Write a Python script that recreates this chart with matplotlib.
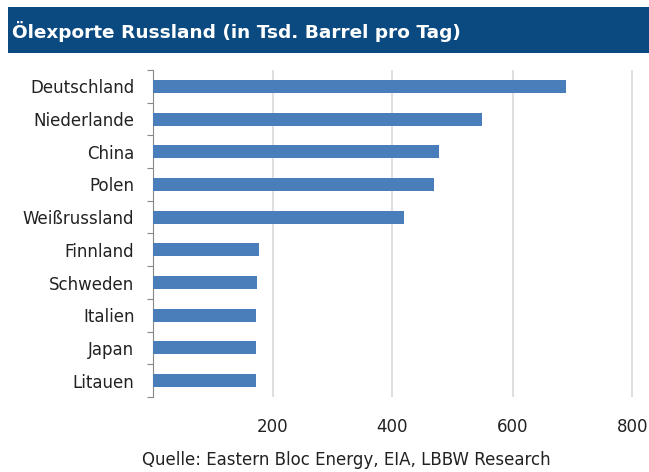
import matplotlib
matplotlib.use("Agg")
import matplotlib.pyplot as plt
from matplotlib.patches import Rectangle

title = "Ölexporte Russland (in Tsd. Barrel pro Tag)"
source = "Quelle: Eastern Bloc Energy, EIA, LBBW Research"
countries = ["Deutschland", "Niederlande", "China", "Polen", "Weißrussland",
             "Finnland", "Schweden", "Italien", "Japan", "Litauen"]
values = [689, 549, 478, 469, 419, 178, 174, 172, 172, 172]
xticks = [200, 400, 600, 800]

W, H = 649, 472
fig = plt.figure(figsize=(W / 100, H / 100), dpi=100)
fig.patch.set_facecolor("white")

# title bar
fig.patches.append(Rectangle((8 / W, 1 - 53 / H), 1 - 8 / W, 46 / H,
                             transform=fig.transFigure, facecolor="#0b4a80",
                             edgecolor="none"))
fig.text(12 / W, 1 - 31 / H, title, color="white", fontsize=13.3,
         fontweight="bold", va="center", ha="left", family="DejaVu Sans")

ax = fig.add_axes([152.5 / W, 1 - 397 / H, 481.2 / W, 327 / H])
y = list(range(len(countries)))
ax.barh(y, values, height=0.4, color="#4a7ebb", zorder=3)
ax.set_ylim(len(countries) - 0.5, -0.5)
ax.set_xlim(0, 802)
ax.set_yticks(y)
ax.set_yticklabels(countries, fontsize=12, color="#222222")
ax.tick_params(axis="y", length=0, pad=13)
# minor ticks at category boundaries
ax.set_yticks([i - 0.5 for i in range(len(countries) + 1)], minor=True)
ax.tick_params(axis="y", which="minor", length=4, color="#888888", width=0.8)
ax.set_xticks(xticks)
ax.set_xticklabels([str(v) for v in xticks], fontsize=12, color="#222222")
ax.tick_params(axis="x", length=0, pad=15)
ax.grid(axis="x", color="#d9d9d9", linewidth=1.2, zorder=0)
for s in ["top", "right", "bottom"]:
    ax.spines[s].set_visible(False)
ax.spines["left"].set_color("#888888")
ax.spines["left"].set_linewidth(0.8)

fig.text(346 / W, 1 - 460 / H, source, fontsize=12, color="#222222",
         ha="center", va="center")

fig.savefig("out.png", dpi=100)
